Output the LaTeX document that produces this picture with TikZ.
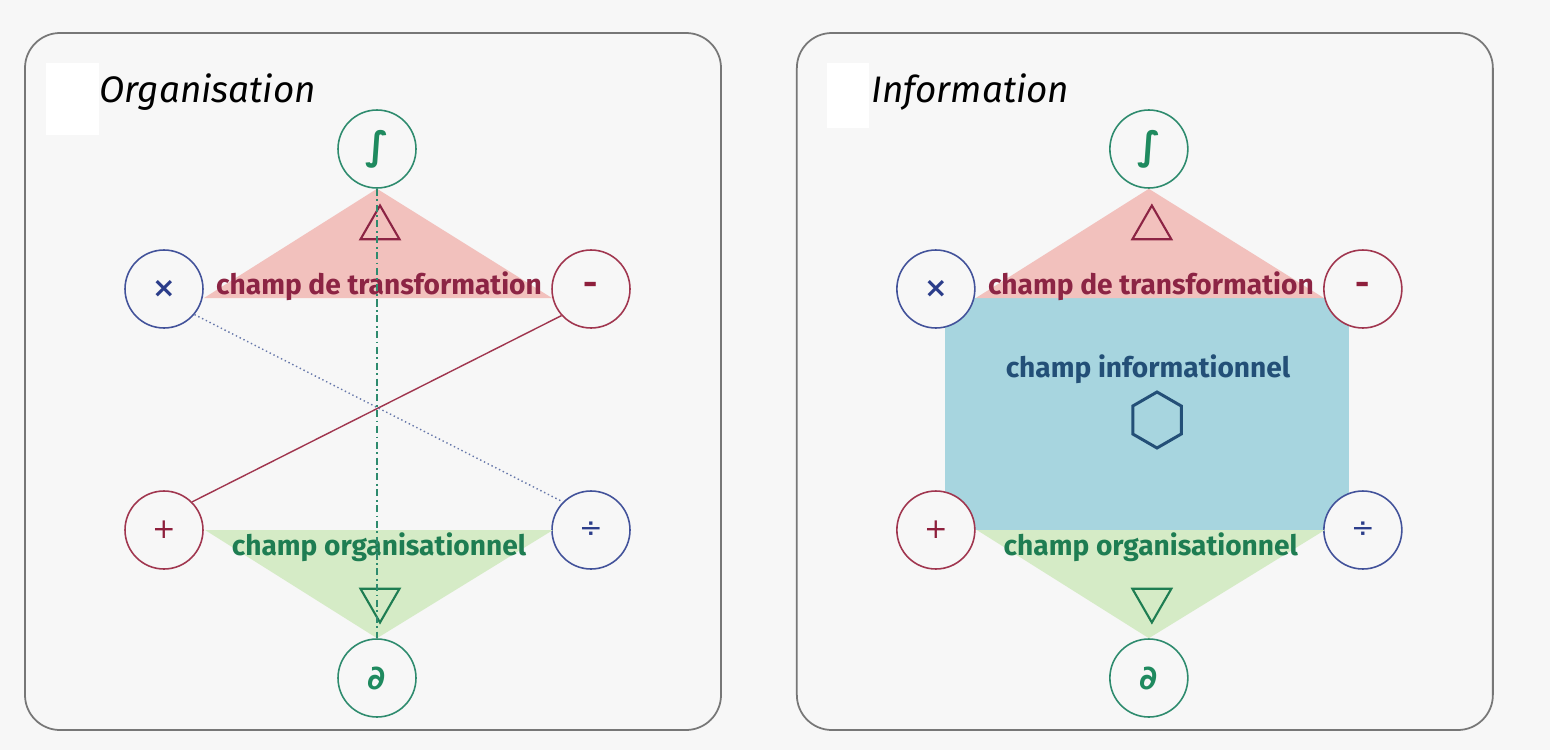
\documentclass[tikz,border=0pt]{standalone}
\usepackage{fontspec}
\setmainfont{Fira Sans}
\newfontfamily\symb{DejaVu Sans}
\usetikzlibrary{shapes.geometric}
\pgfdeclarelayer{background}
\pgfsetlayers{background,main}
\definecolor{fond}{HTML}{F7F7F7}
\definecolor{cadreC}{HTML}{777777}
\definecolor{vertC}{HTML}{2E8B6E}
\definecolor{vertS}{HTML}{1F8A5F}
\definecolor{vertT}{HTML}{1E7D52}
\definecolor{vertF}{HTML}{D5EBC6}
\definecolor{bleuC}{HTML}{42529A}
\definecolor{bleuS}{HTML}{2B3D8A}
\definecolor{bleuF}{HTML}{A7D5DF}
\definecolor{infoT}{HTML}{234F77}
\definecolor{rougeC}{HTML}{A0364F}
\definecolor{rougeS}{HTML}{8E1F3C}
\definecolor{rougeT}{HTML}{8C2444}
\definecolor{roseF}{HTML}{F2C1BD}
\definecolor{pointC}{HTML}{6677AA}
\tikzset{
  cadre/.style={draw=cadreC,fill=fond,line width=1pt,rounded corners=0.7cm},
  op/.style={circle,draw,fill=fond,line width=0.9pt,minimum size=1.56cm,inner sep=0pt,
    font=\symb\fontsize{16}{16}\selectfont},
  champ/.style={font=\bfseries\fontsize{16}{16}\selectfont,inner sep=0pt},
  tri/.style={regular polygon,regular polygon sides=3,draw=#1,line width=1.2pt,
    minimum size=0.9cm,inner sep=0pt},
  titre/.style={font=\itshape\fontsize{21}{21}\selectfont,anchor=base west,inner sep=0pt}
}
\begin{document}
\begin{tikzpicture}[x=0.02cm,y=-0.02cm]
\begin{pgfonlayer}{background}
\fill[fond](0,0)rectangle(1550,750);
\end{pgfonlayer}
\useasboundingbox(0,0)rectangle(1550,750);
% les deux cadres
\foreach \p/\dx in {L/0cm,R/15.44cm}{
\begin{scope}[xshift=\dx]
\begin{pgfonlayer}{background}
\draw[cadre](25,33)rectangle(721,730);
\end{pgfonlayer}
\node[op,draw=vertC,text=vertS](int\p)at(377,149){\bfseries\fontsize{22}{22}\selectfont ∫};
\node[op,draw=bleuC,text=bleuS](mul\p)at(164,289){\bfseries ×};
\node[op,draw=rougeC,text=rougeS](moins\p)at(591,289){\rmfamily\bfseries\fontsize{20}{20}\selectfont -};
\node[op,draw=rougeC,text=rougeS](plus\p)at(164,530){+};
\node[op,draw=bleuC,text=bleuS](div\p)at(591,530){÷};
\node[op,draw=vertC,text=vertS](der\p)at(377,678){\bfseries\fontsize{19}{19}\selectfont ∂};
\fill[roseF](int\p.south)--(204,298)--(552,298)--cycle;
\fill[vertF](der\p.north)--(205,530)--(553,530)--cycle;
\node[champ,text=rougeT](trans\p)at(379,286){champ de transformation};
\node[champ,text=vertT](orga\p)at(379,547){champ organisationnel};
\node[tri=rougeT](haut\p)at(380,228){};
\node[tri=vertT,shape border rotate=180](bas\p)at(380,600){};
\end{scope}}
% titres
\begin{pgfonlayer}{background}
\fill[white](46,63)rectangle(99,135);
\fill[white](827,63)rectangle(869,128);
\fill[bleuF](945,298)rectangle(1349,530);
\end{pgfonlayer}
\node[titre](orgaT)at(99,102){Organisation};
\node[titre](infoT)at(871,102){Information};
% champ informationnel
\node[champ,text=infoT](info)at(1148,369){champ informationnel};
\node[regular polygon,regular polygon sides=6,shape border rotate=30,draw=infoT,
  line width=1.7pt,minimum size=1.12cm,inner sep=0pt](hexa)at(1157,420){};
% liaisons
\draw[rougeC,line width=0.8pt](plusL.45)--(moinsL.222);
\draw[pointC,line width=0.8pt,dash pattern=on 0.8pt off 1.6pt](mulL.-40)--(divL.135);
\draw[vertC,line width=0.8pt,dash pattern=on 4pt off 2pt on 1pt off 2pt](intL.south)--(derL.north);
\end{tikzpicture}
\end{document}
